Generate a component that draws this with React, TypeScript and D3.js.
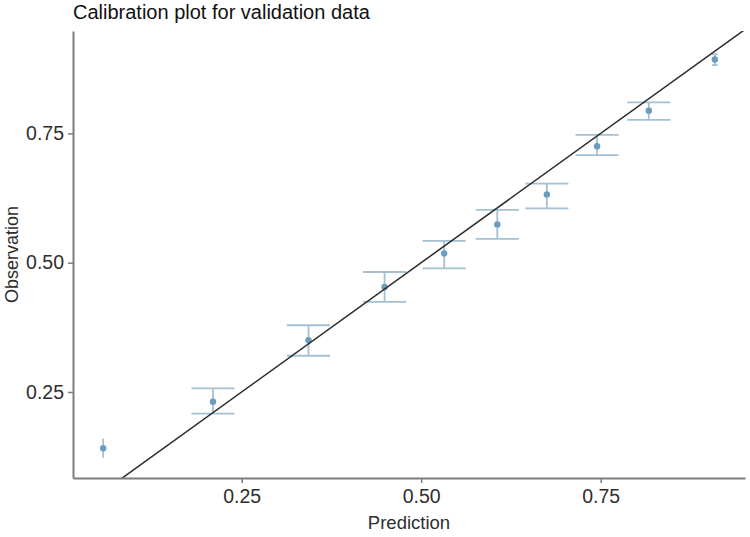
import React, { useEffect, useRef } from 'react';
import * as d3 from 'd3';

// calibration bins: mean prediction, observed rate and its interval
const predicted = [0.057, 0.21, 0.343, 0.449, 0.532, 0.606, 0.675, 0.745, 0.817, 0.909];
const observed = [0.141, 0.231, 0.35, 0.453, 0.518, 0.574, 0.632, 0.725, 0.794, 0.893];
const lower = [0.123, 0.208, 0.32, 0.424, 0.489, 0.546, 0.605, 0.708, 0.776, 0.882];
const upper = [0.16, 0.257, 0.379, 0.482, 0.542, 0.602, 0.653, 0.747, 0.81, 0.903];
// errorbar width, in prediction units
const barWidth = [0, 0.06, 0.06, 0.06, 0.06, 0.06, 0.06, 0.06, 0.06, 0.008];
const ticks = [0.25, 0.5, 0.75];

const App = () => {
  const svgRef = useRef<SVGSVGElement>(null);

  useEffect(() => {
    document.body.style.margin = '0';
    const svg = d3.select(svgRef.current);
    svg.selectAll('*').remove();

    const width = 750;
    const height = 537;
    const margin = { top: 31, right: 5, bottom: 59, left: 73 };
    const font = '"Liberation Sans", Arial, sans-serif';

    const x = d3.scaleLinear().domain([0.015, 0.951]).range([margin.left, width - margin.right]);
    const y = d3.scaleLinear().domain([0.0836, 0.948]).range([height - margin.bottom, margin.top]);

    svg.append('defs')
      .append('clipPath')
      .attr('id', 'panel')
      .append('rect')
      .attr('x', margin.left)
      .attr('y', margin.top)
      .attr('width', width - margin.left - margin.right)
      .attr('height', height - margin.top - margin.bottom);

    const bins = predicted.map((p, i) => ({
      p,
      o: observed[i],
      lo: lower[i],
      hi: upper[i],
      w: barWidth[i],
    }));

    const plot = svg.append('g').attr('clip-path', 'url(#panel)');
    const barColor = '#a3c0d4';

    // error bars
    const bars = plot.selectAll('.bar').data(bins).enter().append('g').attr('class', 'bar');
    bars.append('line')
      .attr('x1', (d) => x(d.p))
      .attr('x2', (d) => x(d.p))
      .attr('y1', (d) => y(d.lo))
      .attr('y2', (d) => y(d.hi))
      .attr('stroke', barColor)
      .attr('stroke-width', 1.8);
    ['lo', 'hi'].forEach((k) => {
      bars.filter((d) => d.w > 0)
        .append('line')
        .attr('x1', (d) => x(d.p - d.w / 2))
        .attr('x2', (d) => x(d.p + d.w / 2))
        .attr('y1', (d) => y(d[k]))
        .attr('y2', (d) => y(d[k]))
        .attr('stroke', barColor)
        .attr('stroke-width', 1.8);
    });

    // points
    plot.selectAll('.pt')
      .data(bins)
      .enter()
      .append('circle')
      .attr('class', 'pt')
      .attr('cx', (d) => x(d.p))
      .attr('cy', (d) => y(d.o))
      .attr('r', 3.2)
      .attr('fill', '#6b9bbf');

    // perfect calibration line
    plot.append('line')
      .attr('x1', x(0))
      .attr('y1', y(0))
      .attr('x2', x(1))
      .attr('y2', y(1))
      .attr('stroke', '#2b2b2b')
      .attr('stroke-width', 1.5);

    // axes
    const axisColor = '#7d7d7d';
    const xAxis = svg.append('g')
      .attr('transform', `translate(0,${height - margin.bottom})`)
      .call(d3.axisBottom(x).tickValues(ticks).tickFormat(d3.format('.2f')).tickSize(5).tickSizeOuter(0).tickPadding(6));
    const yAxis = svg.append('g')
      .attr('transform', `translate(${margin.left},0)`)
      .call(d3.axisLeft(y).tickValues(ticks).tickFormat(d3.format('.2f')).tickSize(5).tickSizeOuter(0).tickPadding(4));

    [xAxis, yAxis].forEach((g) => {
      g.select('.domain').attr('stroke', axisColor).attr('stroke-width', 2);
      g.selectAll('.tick line').attr('stroke', axisColor).attr('stroke-width', 1.5);
      g.selectAll('.tick text')
        .attr('fill', '#2e2e2e')
        .style('font-family', font)
        .style('font-size', '19.5px');
    });

    // titles
    svg.append('text')
      .attr('x', margin.left)
      .attr('y', 19)
      .attr('fill', '#111')
      .style('font-family', font)
      .style('font-size', '20px')
      .text('Calibration plot for validation data');

    svg.append('text')
      .attr('x', (margin.left + width - margin.right) / 2)
      .attr('y', 529)
      .attr('text-anchor', 'middle')
      .attr('fill', '#2e2e2e')
      .style('font-family', font)
      .style('font-size', '18.5px')
      .text('Prediction');

    svg.append('text')
      .attr('transform', `translate(18,${(margin.top + height - margin.bottom) / 2}) rotate(-90)`)
      .attr('text-anchor', 'middle')
      .attr('fill', '#2e2e2e')
      .style('font-family', font)
      .style('font-size', '18px')
      .text('Observation');
  }, []);

  return <svg ref={svgRef} width={750} height={537} style={{ display: 'block', background: '#fff' }} />;
};

export default App;
